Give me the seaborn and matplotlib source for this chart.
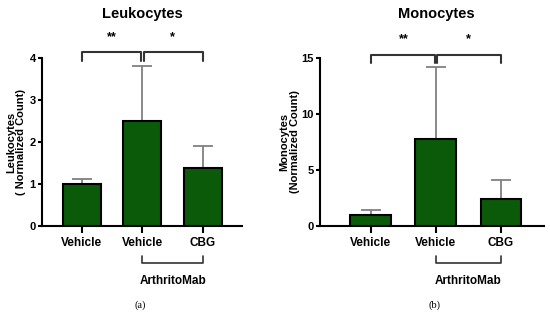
import numpy as np
import pandas as pd
import seaborn as sns
import matplotlib.pyplot as plt
import matplotlib.transforms as mtransforms

# data
groups = ["Control Vehicle", "ArthritoMab Vehicle", "ArthritoMab CBG"]
tick_labels = ["Vehicle", "Vehicle", "CBG"]
leuko_mean = [1.0, 2.5, 1.37]
leuko_err = [0.12, 1.3, 0.54]
mono_mean = [0.95, 7.8, 2.4]
mono_err = [0.45, 6.4, 1.7]

sns.set_style("ticks")
plt.rcParams['font.family'] = ['Liberation Sans Narrow', 'Liberation Sans', 'DejaVu Sans']
plt.rcParams['font.weight'] = 'bold'
plt.rcParams['text.color'] = 'black'
plt.rcParams['axes.labelcolor'] = 'black'
plt.rcParams['xtick.color'] = 'black'
plt.rcParams['ytick.color'] = 'black'

green = "#0a5a0a"
fig = plt.figure(figsize=(5.5, 3.2), dpi=100)
ax1 = fig.add_axes([0.0764, 0.294, 0.364, 0.525])
ax2 = fig.add_axes([0.582, 0.294, 0.407, 0.525])


def draw_panel(ax, means, errs, title, ylabel, yticks, xlim, sig_top, sig_drop, star_y, letter, letter_x, title_x, ylab_x):
    df = pd.DataFrame({"group": groups, "value": means})
    sns.barplot(data=df, x="group", y="value", order=groups, color=green,
                edgecolor="black", linewidth=1.5, width=0.63, saturation=1, ax=ax, zorder=3)
    # only upper error bars, like the original
    ax.errorbar(range(3), means, yerr=[np.zeros(3), errs], fmt="none",
                ecolor="#808080", elinewidth=1.3, capsize=7, capthick=1.3, zorder=2)
    ax.set_xlim(xlim)
    ax.set_ylim(0, yticks[-1])
    ax.set_yticks(yticks)
    ax.set_xticks(range(3))
    ax.set_xticklabels(tick_labels, fontsize=8.5, fontweight="bold")
    ax.tick_params(axis="y", labelsize=8, width=1.5, length=3, pad=1.5)
    ax.tick_params(axis="x", width=1.5, length=5, pad=3)
    for s in ["left", "bottom"]:
        ax.spines[s].set_linewidth(1.5)
        ax.spines[s].set_color("black")
    sns.despine(ax=ax)
    ax.set_xlabel("")
    ax.set_ylabel(ylabel, fontsize=8, fontweight="bold", family=["Liberation Sans"], linespacing=1.0)
    ax.yaxis.set_label_coords(ylab_x, 0.5)

    # significance brackets
    bc = "#333333"
    ax.plot([0, 0, 0.98, 0.98], [sig_top - sig_drop, sig_top, sig_top, sig_top - sig_drop],
            color=bc, lw=1.5, clip_on=False)
    ax.plot([1.02, 1.02, 2, 2], [sig_top - sig_drop, sig_top, sig_top, sig_top - sig_drop],
            color=bc, lw=1.5, clip_on=False)
    ax.text(0.5, star_y, "**", ha="center", va="center", fontsize=9, fontweight="bold")
    ax.text(1.5, star_y, "*", ha="center", va="center", fontsize=9, fontweight="bold")

    # ArthritoMab group bracket under the axis
    tr = mtransforms.blended_transform_factory(ax.transData, ax.transAxes)
    ax.plot([1, 1, 2, 2], [-0.18, -0.222, -0.222, -0.18], color=bc, lw=1.2,
            transform=tr, clip_on=False)
    ax.text(1.5, -0.33, "ArthritoMab", transform=tr, ha="center", va="center",
            fontsize=8.5, fontweight="bold")

    fig.text(title_x, 0.955, title, ha="center", va="center", fontsize=10.5, fontweight="bold")
    fig.text(letter_x, 0.047, letter, ha="center", va="center", fontsize=7.5,
             fontweight="normal", family=["Liberation Serif"])


draw_panel(ax1, leuko_mean, leuko_err, "Leukocytes", "Leukocytes\n( Normalized Count)",
           [0, 1, 2, 3, 4], (-0.66, 2.65), 4.14, 0.21, 4.5, "(a)", 0.2545, 0.258, -0.08)
draw_panel(ax2, mono_mean, mono_err, "Monocytes", "Monocytes\n(Normalized Count)",
           [0, 5, 10, 15], (-0.78, 2.66), 15.27, 0.75, 16.7, "(b)", 0.79, 0.794, -0.092)

fig.savefig("out.png", dpi=100)
